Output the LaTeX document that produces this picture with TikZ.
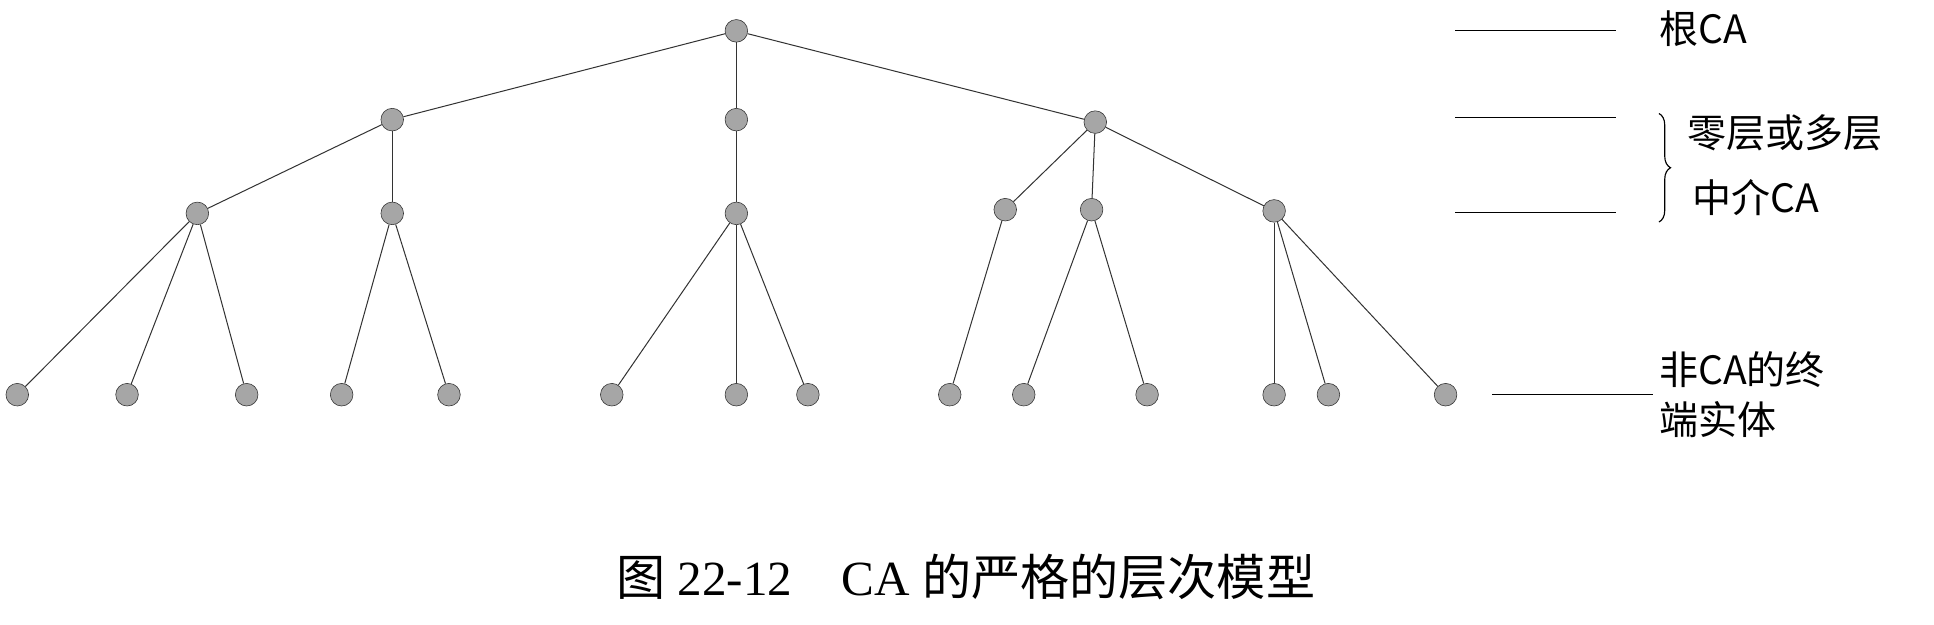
\documentclass[tikz,border=0pt]{standalone}
\usepackage{fontspec}
\setmainfont{Liberation Serif}
\newfontfamily\cjk{Noto Sans CJK SC}
\usetikzlibrary{decorations.pathreplacing}
\begin{document}
\begin{tikzpicture}[x=0.03cm,y=-0.03cm,
  dot/.style={circle,fill=gray!70,draw=gray!40!black,line width=0.4pt,inner sep=0pt,minimum size=0.55cm},
  edge/.style={line width=0.7pt,draw=black!80},
  lbl/.style={font=\cjk\fontsize{27}{31}\selectfont,anchor=west,inner sep=0pt}]
\useasboundingbox (0,0) rectangle (1568,506);
\node[dot] (r) at (597,25) {};
\node[dot] (a) at (318,97) {};
\node[dot] (b) at (597,97) {};
\node[dot] (c) at (888,99) {};
\node[dot] (a1) at (160,173) {};
\node[dot] (a2) at (318,173) {};
\node[dot] (b1) at (597,173) {};
\node[dot] (c1) at (815,170) {};
\node[dot] (c2) at (885,170) {};
\node[dot] (c3) at (1033,171) {};
\foreach \n/\x in {l1/14,l2/103,l3/200,l4/277,l5/364,l6/496,l7/597,l8/655,l9/770,l10/830,l11/930,l12/1033,l13/1077,l14/1172}
  \node[dot] (\n) at (\x,320) {};
\foreach \p/\q in {r/a,r/b,r/c,a/a1,a/a2,b/b1,c/c1,c/c2,c/c3,a1/l1,a1/l2,a1/l3,a2/l4,a2/l5,b1/l6,b1/l7,b1/l8,c1/l9,c2/l10,c2/l11,c3/l12,c3/l13,c3/l14}
  \draw[edge] (\p) -- (\q);
\coordinate (s1) at (1180,25); \coordinate (e1) at (1310,25);
\coordinate (s2) at (1180,95); \coordinate (e2) at (1310,95);
\coordinate (s3) at (1180,172); \coordinate (e3) at (1310,172);
\coordinate (s4) at (1210,320); \coordinate (e4) at (1340,320);
\foreach \i in {1,2,3,4} \draw[line width=0.6pt] (s\i) -- (e\i);
\node[lbl] (t1) at (1345,23) {根CA};
\coordinate (b1t) at (1345,92); \coordinate (b1b) at (1345,180);
\draw[line width=0.8pt,decorate,decoration={brace,amplitude=8pt}] (b1t) -- (b1b);
\node[lbl] (t2) at (1368,108) {零层或多层};
\node[lbl] (t3) at (1372,160) {中介CA};
\node[lbl] (t4) at (1345,300) {非CA的终};
\node[lbl] (t5) at (1345,340) {端实体};
\node[font=\fontsize{34}{38}\selectfont,inner sep=0pt] (cap) at (783,468) {{\cjk 图} 22-12\quad CA {\cjk 的严格的层次模型}};
\end{tikzpicture}
\end{document}
